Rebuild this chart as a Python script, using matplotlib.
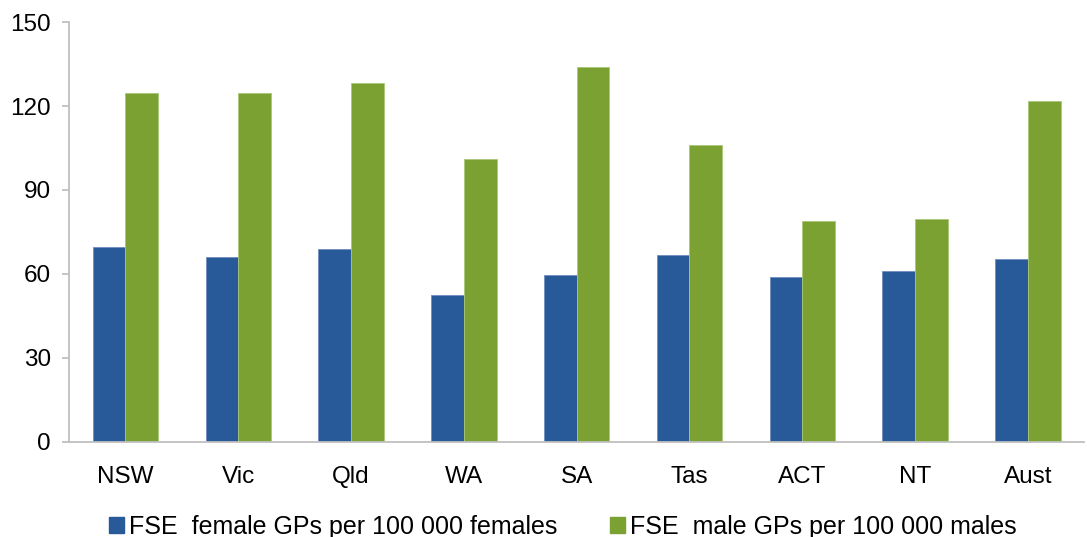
import numpy as np
import matplotlib.pyplot as plt
from matplotlib.patches import Patch

plt.rcParams['font.family'] = ['Liberation Sans', 'DejaVu Sans']

states = ["NSW", "Vic", "Qld", "WA", "SA", "Tas", "ACT", "NT", "Aust"]
female = [69.5, 66.0, 68.8, 52.4, 59.5, 66.7, 58.8, 61.0, 65.2]
male = [124.5, 124.5, 128.1, 101.0, 133.9, 106.0, 78.8, 79.5, 121.7]

blue = "#285A9A"
green = "#7AA132"

fig = plt.figure(figsize=(10.87, 5.37), dpi=100)
ax = fig.add_axes([0.0635, 0.177, 0.934, 0.782])

x = np.arange(len(states))
w = 0.29
ax.bar(x - w / 2, female, w, color=blue, edgecolor="#6F8FC0", linewidth=0.6)
ax.bar(x + w / 2, male, w, color=green, edgecolor="#A9C77A", linewidth=0.6)

ax.set_xlim(-0.5, 8.5)
ax.set_ylim(0, 150)
ax.set_yticks([0, 30, 60, 90, 120, 150])
ax.set_xticks(x)
ax.set_xticklabels(states)

for s in ["top", "right"]:
    ax.spines[s].set_visible(False)
for s in ["left", "bottom"]:
    ax.spines[s].set_color("#BFBFBF")
    ax.spines[s].set_linewidth(1.3)

ax.tick_params(axis="y", length=5, width=1.3, color="#BFBFBF", pad=8, labelsize=17.5)
ax.tick_params(axis="x", length=0, pad=17, labelsize=17.5)

handles = [Patch(facecolor=blue, edgecolor=blue), Patch(facecolor=green, edgecolor=green)]
labels = ["FSE  female GPs per 100 000 females", "FSE  male GPs per 100 000 males"]
fig.legend(handles, labels, loc="lower left", bbox_to_anchor=(0.08, -0.045), ncol=2,
           frameon=False, fontsize=18, handlelength=0.6, handleheight=0.6,
           handletextpad=0.2, columnspacing=2.1)

fig.savefig("out.png", dpi=100)
